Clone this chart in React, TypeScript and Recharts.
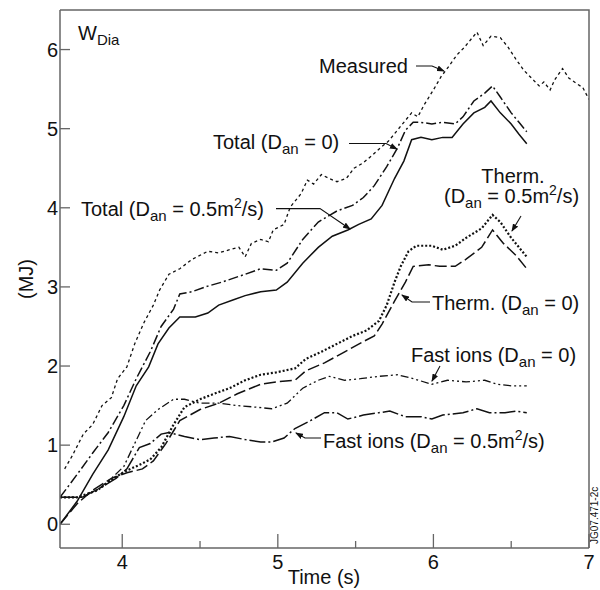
import React from "react";
import { LineChart, Line, XAxis, YAxis } from "recharts";

// [time (s), energy (MJ)]
const measured: [number, number][] = [
  [3.63, 0.7], [3.68, 0.87], [3.75, 1.14], [3.81, 1.26], [3.87, 1.5], [3.93, 1.6],
  [3.97, 1.84], [4.03, 1.99], [4.08, 2.28], [4.14, 2.55], [4.2, 2.77], [4.24, 2.96],
  [4.3, 3.16], [4.37, 3.23], [4.45, 3.35], [4.55, 3.45], [4.62, 3.43], [4.69, 3.47],
  [4.75, 3.5], [4.79, 3.38], [4.83, 3.55], [4.89, 3.6], [4.94, 3.57], [4.97, 3.72],
  [5.04, 3.79], [5.08, 4.01], [5.15, 4.18], [5.19, 4.35], [5.23, 4.3], [5.28, 4.42],
  [5.33, 4.37], [5.38, 4.33], [5.44, 4.37], [5.49, 4.5], [5.55, 4.57], [5.61, 4.67],
  [5.66, 4.76], [5.71, 4.84], [5.76, 4.96], [5.81, 5.08], [5.86, 5.2], [5.9, 5.15],
  [5.94, 5.3], [6.0, 5.49], [6.05, 5.66], [6.1, 5.79], [6.15, 5.93], [6.2, 6.03],
  [6.25, 6.15], [6.28, 6.22], [6.32, 6.05], [6.37, 6.17], [6.43, 6.15], [6.48, 6.03],
  [6.53, 5.88], [6.58, 5.74], [6.63, 5.64], [6.68, 5.54], [6.71, 5.59], [6.75, 5.49],
  [6.78, 5.62], [6.83, 5.76], [6.87, 5.64], [6.92, 5.57], [6.96, 5.52], [7.0, 5.37],
];

const totalD0: [number, number][] = [
  [3.6, 0.34], [3.71, 0.63], [3.81, 0.9], [3.91, 1.16], [4.01, 1.5], [4.09, 1.84],
  [4.18, 2.18], [4.25, 2.5], [4.33, 2.72], [4.37, 2.91], [4.45, 2.94], [4.55, 3.01],
  [4.64, 3.06], [4.79, 3.16], [4.89, 3.23], [4.99, 3.21], [5.06, 3.3], [5.16, 3.6],
  [5.26, 3.82], [5.38, 3.96], [5.48, 4.03], [5.55, 4.13], [5.62, 4.28], [5.7, 4.52],
  [5.77, 4.76], [5.82, 4.98], [5.87, 5.08], [5.92, 5.08], [5.99, 5.06], [6.06, 5.08],
  [6.14, 5.06], [6.19, 5.15], [6.26, 5.35], [6.33, 5.45], [6.38, 5.54], [6.43, 5.4],
  [6.5, 5.2], [6.55, 5.08], [6.6, 4.96],
];

const totalD05: [number, number][] = [
  [3.6, 0.0], [3.71, 0.29], [3.81, 0.63], [3.91, 0.94], [4.01, 1.36], [4.09, 1.75],
  [4.17, 1.99], [4.23, 2.28], [4.3, 2.48], [4.37, 2.62], [4.47, 2.62], [4.55, 2.67],
  [4.62, 2.77], [4.72, 2.84], [4.79, 2.89], [4.89, 2.94], [4.99, 2.96], [5.06, 3.06],
  [5.16, 3.3], [5.26, 3.5], [5.35, 3.64], [5.45, 3.72], [5.52, 3.79], [5.6, 3.86],
  [5.67, 4.03], [5.75, 4.37], [5.81, 4.59], [5.86, 4.86], [5.92, 4.89], [5.99, 4.86],
  [6.06, 4.89], [6.12, 4.89], [6.19, 5.06], [6.26, 5.2], [6.33, 5.27], [6.37, 5.35],
  [6.43, 5.2], [6.5, 5.06], [6.55, 4.93], [6.6, 4.81],
];

const thermD05: [number, number][] = [
  [3.6, 0.34], [3.71, 0.34], [3.84, 0.43], [3.96, 0.6], [4.03, 0.68], [4.11, 0.75],
  [4.18, 0.82], [4.25, 0.97], [4.33, 1.26], [4.4, 1.48], [4.5, 1.58], [4.59, 1.65],
  [4.69, 1.72], [4.79, 1.82], [4.89, 1.89], [4.99, 1.92], [5.11, 1.97], [5.18, 2.09],
  [5.28, 2.18], [5.38, 2.28], [5.48, 2.38], [5.57, 2.45], [5.65, 2.57], [5.7, 2.77],
  [5.75, 3.06], [5.79, 3.26], [5.84, 3.45], [5.89, 3.52], [5.99, 3.52], [6.06, 3.47],
  [6.14, 3.52], [6.21, 3.62], [6.31, 3.74], [6.38, 3.91], [6.43, 3.82], [6.5, 3.62],
  [6.6, 3.38],
];

const thermD0: [number, number][] = [
  [3.6, 0.0], [3.71, 0.26], [3.81, 0.43], [3.93, 0.58], [4.03, 0.65], [4.13, 0.7],
  [4.2, 0.8], [4.28, 1.02], [4.37, 1.31], [4.5, 1.45], [4.62, 1.53], [4.74, 1.65],
  [4.89, 1.77], [4.99, 1.8], [5.11, 1.82], [5.18, 1.94], [5.3, 2.04], [5.43, 2.18],
  [5.55, 2.31], [5.62, 2.38], [5.67, 2.53], [5.75, 2.82], [5.82, 3.06], [5.87, 3.26],
  [5.97, 3.28], [6.04, 3.26], [6.14, 3.26], [6.21, 3.35], [6.31, 3.5], [6.38, 3.72],
  [6.45, 3.55], [6.53, 3.4], [6.6, 3.23],
];

const fastD0: [number, number][] = [
  [3.6, 0.34], [3.74, 0.34], [3.84, 0.43], [3.93, 0.58], [4.01, 0.73], [4.08, 1.02],
  [4.15, 1.31], [4.23, 1.45], [4.33, 1.58], [4.4, 1.58], [4.5, 1.53], [4.62, 1.53],
  [4.74, 1.5], [4.86, 1.48], [4.96, 1.46], [5.06, 1.53], [5.16, 1.72], [5.26, 1.82],
  [5.33, 1.87], [5.43, 1.82], [5.53, 1.84], [5.65, 1.87], [5.77, 1.89], [5.87, 1.84],
  [5.99, 1.77], [6.09, 1.82], [6.21, 1.8], [6.33, 1.82], [6.41, 1.77], [6.5, 1.75],
  [6.6, 1.75],
];

const fastD05: [number, number][] = [
  [3.6, 0.34], [3.74, 0.34], [3.86, 0.46], [3.96, 0.58], [4.03, 0.7], [4.11, 0.97],
  [4.18, 1.02], [4.25, 1.14], [4.3, 1.16], [4.4, 1.11], [4.5, 1.07], [4.59, 1.09],
  [4.69, 1.11], [4.79, 1.07], [4.89, 1.04], [4.96, 1.04], [5.04, 1.09], [5.11, 1.21],
  [5.21, 1.31], [5.3, 1.41], [5.38, 1.41], [5.45, 1.33], [5.55, 1.38], [5.65, 1.41],
  [5.72, 1.43], [5.82, 1.36], [5.92, 1.36], [5.99, 1.33], [6.06, 1.38], [6.19, 1.41],
  [6.28, 1.46], [6.36, 1.41], [6.46, 1.41], [6.53, 1.43], [6.6, 1.41],
];

const xTicks = [4, 4.5, 5, 5.5, 6, 6.5, 7];
const yTicks = [0, 1, 2, 3, 4, 5, 6];

const FONT = "'Liberation Sans', Arial, sans-serif";
const INK = "#111";
const AXIS = "#666";

const toRows = (pts: [number, number][]) => pts.map(([t, w]) => ({ t, w }));

const XTick = (props: any) => {
  const { x, y, payload } = props;
  const major = Number.isInteger(payload.value);
  return (
    <g>
      <line x1={x} x2={x} y1={y} y2={y - (major ? 14 : 7)} stroke={AXIS} strokeWidth={1.3} />
      {major && (
        <text x={x} y={y + 21} textAnchor="middle" fontSize={20} fontFamily={FONT} fill={INK}>
          {payload.value}
        </text>
      )}
    </g>
  );
};

const YTick = (props: any) => {
  const { x, y, payload } = props;
  return (
    <g>
      <line x1={x} x2={x + 10} y1={y} y2={y} stroke={AXIS} strokeWidth={1.3} />
      <text x={x - 2} y={y + 7} textAnchor="end" fontSize={20} fontFamily={FONT} fill={INK}>
        {payload.value}
      </text>
    </g>
  );
};

// "(D_an = ...)" with subscript, optional m² tail
const DanLabel = ({ x, y, head, val, sq }: { x: number; y: number; head: string; val: string; sq?: boolean }) => (
  <text x={x} y={y}>
    <tspan>{head}(D</tspan>
    <tspan fontSize={15} dy={5}>an</tspan>
    {sq ? (
      <>
        <tspan dy={-5}>{` = ${val}m`}</tspan>
        <tspan fontSize={14} dy={-8}>2</tspan>
        <tspan dy={8}>/s)</tspan>
      </>
    ) : (
      <tspan dy={-5}>{` = ${val})`}</tspan>
    )}
  </text>
);

const Notes = () => (
  <svg
    width={600}
    height={590}
    style={{ position: "absolute", left: 0, top: 0, pointerEvents: "none" }}
  >
    <defs>
      <marker id="arr" markerWidth={8} markerHeight={6} refX={7} refY={3} orient="auto" markerUnits="userSpaceOnUse">
        <path d="M0,0 L8,3 L0,6 z" fill={INK} />
      </marker>
    </defs>
    <g fontFamily={FONT} fontSize={20} fill={INK}>
      <text x={78} y={40}>
        <tspan>W</tspan>
        <tspan fontSize={15} dy={5}>Dia</tspan>
      </text>
      <text x={319} y={73}>Measured</text>
      <DanLabel x={213} y={149} head="Total " val="0" />
      <DanLabel x={81} y={216} head="Total " val="0.5" sq />
      <text x={513} y={183} textAnchor="middle">Therm.</text>
      <DanLabel x={444} y={203} head="" val="0.5" sq />
      <DanLabel x={432} y={310} head="Therm. " val="0" />
      <DanLabel x={411} y={362} head="Fast ions " val="0" />
      <DanLabel x={323} y={448} head="Fast ions " val="0.5" sq />
      <text x={324} y={584} textAnchor="middle">Time (s)</text>
      <text x={0} y={0} textAnchor="middle" transform="translate(33 279) rotate(-90)">(MJ)</text>
      <text x={0} y={0} fontSize={10} transform="translate(598 544) rotate(-90)">
        JG07.471-2c
      </text>
    </g>
    <g fill="none" stroke={INK} strokeWidth={1.1} markerEnd="url(#arr)">
      <path d="M416,66 L432,66 L444,71" />
      <path d="M349,143.5 L386,143.5 L397,149" />
      <path d="M276,208.6 L320,208.6 L350,229" />
      <path d="M521,216 L512,231" />
      <path d="M430,302 L412,302 L402,295" />
      <path d="M440,366 L432,381" />
      <path d="M321,438 L305,438 L296,433" />
    </g>
    <path d="M60,10 L589,10 L589,548" fill="none" stroke={AXIS} strokeWidth={1.5} />
  </svg>
);

const series = [
  { key: "measured", pts: measured, dash: "3 3", width: 1.3 },
  { key: "totalD0", pts: totalD0, dash: "10 3 2 3", width: 1.5 },
  { key: "totalD05", pts: totalD05, dash: undefined, width: 1.5 },
  { key: "thermD05", pts: thermD05, dash: "2 2", width: 2.2 },
  { key: "thermD0", pts: thermD0, dash: "12 4", width: 1.5 },
  { key: "fastD0", pts: fastD0, dash: "8 3 2 3 2 3", width: 1.3 },
  { key: "fastD05", pts: fastD05, dash: "16 3 2 3", width: 1.5 },
];

export default function App() {
  return (
    <div style={{ position: "absolute", left: 0, top: 0, width: 600, height: 590, background: "#fff" }}>
      <LineChart width={600} height={590} margin={{ top: 10, right: 11, left: 0, bottom: 0 }}>
        <XAxis
          type="number"
          dataKey="t"
          domain={[3.6, 7]}
          ticks={xTicks}
          allowDataOverflow
          height={42}
          tickSize={0}
          tickMargin={0}
          tick={<XTick />}
          axisLine={{ stroke: AXIS, strokeWidth: 1.5 }}
        />
        <YAxis
          type="number"
          domain={[-0.3, 6.5]}
          ticks={yTicks}
          allowDataOverflow
          width={60}
          tickSize={0}
          tickMargin={0}
          tick={<YTick />}
          axisLine={{ stroke: AXIS, strokeWidth: 1.5 }}
        />
        {series.map((s) => (
          <Line
            key={s.key}
            data={toRows(s.pts)}
            dataKey="w"
            type="linear"
            stroke={INK}
            strokeWidth={s.width}
            strokeDasharray={s.dash}
            dot={false}
            activeDot={false}
            isAnimationActive={false}
          />
        ))}
      </LineChart>
      <Notes />
    </div>
  );
}
